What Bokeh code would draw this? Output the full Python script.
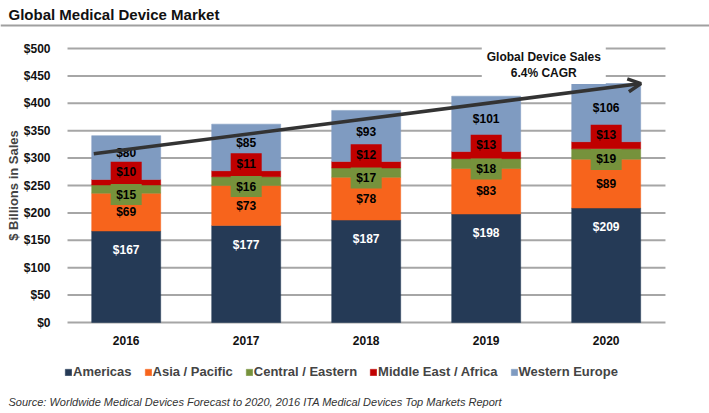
from bokeh.plotting import figure
from bokeh.models import (ColumnDataSource, Legend, LegendItem, Arrow, OpenHead,
                          Label, NumeralTickFormatter, Range1d, FixedTicker, Span)
from bokeh.core.properties import value
from bokeh.embed import file_html
from bokeh.resources import INLINE

# ---------------- data ----------------
years = ["2016", "2017", "2018", "2019", "2020"]
americas = [167, 177, 187, 198, 209]
asia_pacific = [69, 73, 78, 83, 89]
central_eastern = [15, 16, 17, 18, 19]
middle_east_africa = [10, 11, 12, 13, 13]
western_europe = [80, 85, 93, 101, 106]
series_names = ["Americas", "Asia / Pacific", "Central / Eastern",
                "Middle East / Africa", "Western Europe"]
series_keys = ["americas", "asia", "central", "mea", "weu"]
colors = ["#253a56", "#f7641c", "#76923c", "#c00000", "#7f9bc1"]
y_ticks = [0, 50, 100, 150, 200, 250, 300, 350, 400, 450, 500]
cagr_trend = [308, 436]          # trend arrow start / end values
cagr_text = "Global Device Sales\n6.4% CAGR"
title_text = "Global Medical Device Market"
source_text = "Source: Worldwide Medical Devices Forecast to 2020, 2016 ITA Medical Devices Top Markets Report"

FONT = "Liberation Sans"
GRID = "#a6a6a6"
W, H = 709, 413

xs = list(range(len(years)))
series = [americas, asia_pacific, central_eastern, middle_east_africa, western_europe]
data = {"x": xs}
for k, s in zip(series_keys, series):
    data[k] = s
src = ColumnDataSource(data)

# the frame fills the whole canvas; axes are pinned inside it
p = figure(x_range=Range1d(-1.0475, 4.861), y_range=Range1d(-166, 587.6),
           width=W, height=H, output_backend="svg", toolbar_location=None,
           min_border=0, min_border_left=0, min_border_right=0,
           min_border_top=0, min_border_bottom=0)
p.outline_line_color = None
p.xgrid.visible = False
p.ygrid.visible = False

# horizontal grid lines over the plot area (between the axis and the right edge)
grid_left, grid_right = -0.489, 4.494
p.segment(x0=[grid_left] * len(y_ticks), x1=[grid_right] * len(y_ticks),
          y0=y_ticks, y1=y_ticks, line_color=GRID, line_width=2)

renderers = p.vbar_stack(series_keys, x="x", width=0.575, source=src,
                         fill_color=colors, line_color=colors, line_width=0.5)

# ---- label positions derived from stacked values ----
bottoms = [[0] * len(years)]
for s in series:
    bottoms.append([b + v for b, v in zip(bottoms[-1], s)])

def centers(i):
    return [(bottoms[i][j] + bottoms[i + 1][j]) / 2 for j in range(len(years))]

lab_y = [
    [t - 35 for t in bottoms[1]],
    centers(1),
    [c - 10 for c in centers(2)],
    [c + 18 for c in centers(3)],
    [c + 8 for c in centers(4)],
]
text_colors = ["white", "black", "black", "black", "black"]

for i in (2, 3):
    bs = ColumnDataSource(dict(x=xs, y=lab_y[i]))
    p.rect(x="x", y="y", width=31, height=21, width_units="screen", height_units="screen",
           fill_color=colors[i], line_color=None, source=bs)

for i, s in enumerate(series):
    ls = ColumnDataSource(dict(x=xs, y=lab_y[i], t=["$%d" % v for v in s]))
    p.text(x="x", y="y", text="t", source=ls, text_align="center", text_baseline="middle",
           text_font=value(FONT), text_font_size="12px", text_font_style="bold",
           text_color=text_colors[i])

# ---- CAGR arrow ----
p.add_layout(Arrow(end=OpenHead(size=13, line_width=3.5, line_color="#333333"),
                   x_start=xs[0] - 0.27, y_start=cagr_trend[0],
                   x_end=xs[-1] + 0.29, y_end=cagr_trend[1],
                   line_width=3.5, line_color="#333333"))

box = ColumnDataSource(dict(x=[3.48], y=[470]))
p.rect(x="x", y="y", width=124, height=38, width_units="screen", height_units="screen",
       fill_color="white", line_color=None, source=box)
p.add_layout(Label(x=3.48, y=470, text=cagr_text, text_align="center", text_baseline="middle",
                   text_font=FONT, text_font_size="12px", text_font_style="bold",
                   text_color="#111111"))

# ---- axes (pinned at data locations, no side panels) ----
p.yaxis.fixed_location = grid_left
p.yaxis.bounds = (y_ticks[0], y_ticks[-1])
p.yaxis.ticker = FixedTicker(ticks=y_ticks)
p.yaxis.formatter = NumeralTickFormatter(format="$0")
p.yaxis.axis_label = "$ Billions in Sales"
p.yaxis.axis_label_text_font = FONT
p.yaxis.axis_label_text_font_size = "13px"
p.yaxis.axis_label_text_font_style = "bold"
p.yaxis.axis_label_standoff = 0
p.yaxis.axis_line_color = None
p.yaxis.major_tick_line_color = None
p.yaxis.minor_tick_line_color = None
p.yaxis.major_label_standoff = 11

p.xaxis.fixed_location = 0
p.xaxis.ticker = FixedTicker(ticks=xs)
p.xaxis.major_label_overrides = {x: y for x, y in zip(xs, years)}
p.xaxis.axis_line_color = None
p.xaxis.major_tick_line_color = None
p.xaxis.minor_tick_line_color = None
p.xaxis.major_label_standoff = 7
for ax in (p.xaxis, p.yaxis):
    ax.major_label_text_font = FONT
    ax.major_label_text_font_size = "12px"
    ax.major_label_text_font_style = "bold"
    ax.major_label_text_color = "#111111"

# ---- title and rule ----
p.add_layout(Label(x=8, y=H - 14, x_units="screen", y_units="screen", text=title_text,
                   text_font=FONT, text_font_size="15px", text_font_style="bold",
                   text_color="#111111", text_align="left", text_baseline="middle"))
p.add_layout(Span(location=542, dimension="width", line_color="#a0a0a0", line_width=2))

# ---- legend ----
legend = Legend(items=[LegendItem(label=n, renderers=[r]) for n, r in zip(series_names, renderers)],
                orientation="horizontal", location=(64, 34), border_line_color=None,
                background_fill_alpha=0,
                label_text_font=FONT, label_text_font_size="13px", label_text_font_style="bold",
                glyph_width=8, glyph_height=8, label_standoff=1, spacing=12, padding=2, margin=0)
p.add_layout(legend)

# ---- source note ----
p.add_layout(Label(x=8, y=12, x_units="screen", y_units="screen", text=source_text,
                   text_font=FONT, text_font_size="11px", text_font_style="italic",
                   text_color="#333333", text_align="left", text_baseline="middle"))

open("out.html", "w").write(file_html(p, INLINE))
